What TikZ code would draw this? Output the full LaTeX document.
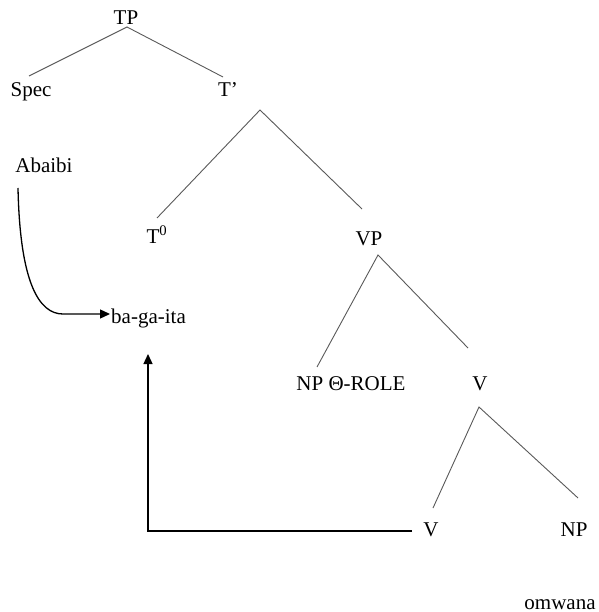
\documentclass[tikz,border=0pt]{standalone}
\usepackage{fontspec}
\setmainfont{Liberation Serif}
\usetikzlibrary{arrows.meta}
\begin{document}
\begin{tikzpicture}[x=1pt,y=-1pt,
  lbl/.style={inner sep=0pt,anchor=base,font=\fontsize{21}{25}\selectfont},
  tree/.style={draw=black!65,line width=0.9pt},
  mv/.style={draw=black,line width=1.3pt,-{Triangle[length=10pt,width=9pt]}}]
\useasboundingbox (0,0) rectangle (598,612);
\node[lbl] (TP) at (126,25) {TP};
\node[lbl] (Spec) at (31,97) {Spec};
\node[lbl] (Tb) at (228,97) {T’};
\node[lbl] (Ab) at (44,173) {Abaibi};
\node[lbl] (T0) at (157,243) {T\textsuperscript{0}};
\node[lbl] (VP) at (369,245) {VP};
\node[lbl,anchor=base west] (bga) at (111,323) {ba-ga-ita};
\node[lbl] (NPt) at (351,390) {NP Θ-ROLE};
\node[lbl] (Vb) at (480,390) {V};
\node[lbl] (V) at (431,536) {V};
\node[lbl] (NP) at (574,536) {NP};
\node[lbl] (om) at (560,609) {omwana};
% tree lines
\draw[tree] ([shift={(-2,-21)}]Spec.base) -- ([shift={(1,2)}]TP.base) -- ([shift={(-5,-20)}]Tb.base);
\draw[tree] ([shift={(0,-25)}]T0.base) -- ([shift={(32,13)}]Tb.base) -- ([shift={(-7,-36)}]VP.base);
\draw[tree] ([shift={(-34,-23)}]NPt.base) -- ([shift={(9,10)}]VP.base) -- ([shift={(-12,-42)}]Vb.base);
\draw[tree] ([shift={(2,-28)}]V.base) -- ([shift={(-1,17)}]Vb.base) -- ([shift={(4,-38)}]NP.base);
% movement arrows
\draw[mv] ([shift={(-26,15)}]Ab.base) .. controls ([shift={(-24,110)}]Ab.base) and ([shift={(-5,141)}]Ab.base) .. ([shift={(19,141)}]Ab.base) -- ([shift={(-1,-9)}]bga.base west);
\draw[mv] ([shift={(-19,-5)}]V.base) -- ([shift={(37,208)}]bga.base west) -- ([shift={(37,31)}]bga.base west);
\end{tikzpicture}
\end{document}
